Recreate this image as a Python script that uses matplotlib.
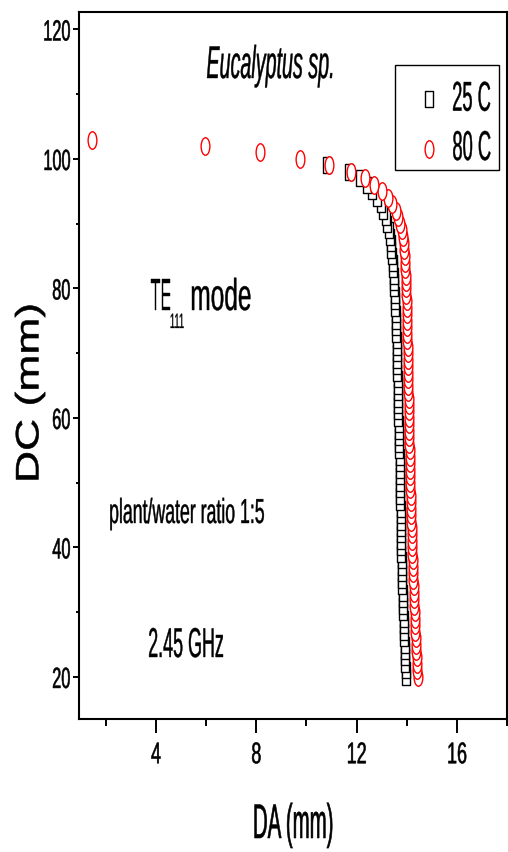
import matplotlib
matplotlib.use('Agg')
import matplotlib.pyplot as plt
from matplotlib.patheffects import AbstractPathEffect
from matplotlib.transforms import Affine2D
from matplotlib.path import Path
from matplotlib.patches import Rectangle
from matplotlib.lines import Line2D

plt.rcParams['font.family'] = ['Liberation Sans', 'DejaVu Sans']

# DC (mm) vs DA (mm), one point per mm of DC
dc_25 = [20, 21, 22, 23, 24, 25, 26, 27, 28, 29,
         30, 31, 32, 33, 34, 35, 36, 37, 38, 39,
         40, 41, 42, 43, 44, 45, 46, 47, 48, 49,
         50, 51, 52, 53, 54, 55, 56, 57, 58, 59,
         60, 61, 62, 63, 64, 65, 66, 67, 68, 69,
         70, 71, 72, 73, 74, 75, 76, 77, 78, 79,
         80, 81, 82, 83, 84, 85, 86, 87, 88, 89,
         90, 91, 92, 93, 94, 95, 96, 97, 98, 99]
da_25 = [13.98, 13.97, 13.95, 13.94, 13.93, 13.92, 13.91, 13.90, 13.89, 13.88,
         13.87, 13.86, 13.85, 13.84, 13.83, 13.82, 13.81, 13.80, 13.80, 13.79,
         13.79, 13.78, 13.78, 13.77, 13.77, 13.76, 13.76, 13.75, 13.75, 13.74,
         13.74, 13.73, 13.73, 13.72, 13.72, 13.71, 13.70, 13.69, 13.69, 13.68,
         13.67, 13.67, 13.66, 13.66, 13.65, 13.64, 13.64, 13.63, 13.62, 13.62,
         13.61, 13.60, 13.60, 13.59, 13.58, 13.57, 13.56, 13.55, 13.54, 13.52,
         13.51, 13.50, 13.48, 13.46, 13.44, 13.42, 13.39, 13.36, 13.33, 13.29,
         13.23, 13.16, 13.07, 12.96, 12.80, 12.63, 12.43, 12.13, 11.68, 10.84]

dc_80 = [20, 21, 22, 23, 24, 25, 26, 27, 28, 29,
         30, 31, 32, 33, 34, 35, 36, 37, 38, 39,
         40, 41, 42, 43, 44, 45, 46, 47, 48, 49,
         50, 51, 52, 53, 54, 55, 56, 57, 58, 59,
         60, 61, 62, 63, 64, 65, 66, 67, 68, 69,
         70, 71, 72, 73, 74, 75, 76, 77, 78, 79,
         80, 81, 82, 83, 84, 85, 86, 87, 88, 89,
         90, 91, 92, 93, 94, 95, 96, 97, 98, 99,
         100, 101, 102, 103]
da_80 = [14.44, 14.43, 14.41, 14.40, 14.39, 14.38, 14.36, 14.35, 14.34, 14.33,
         14.32, 14.31, 14.30, 14.29, 14.28, 14.27, 14.26, 14.25, 14.24, 14.23,
         14.22, 14.22, 14.21, 14.20, 14.19, 14.18, 14.18, 14.17, 14.16, 14.15,
         14.15, 14.14, 14.13, 14.13, 14.12, 14.12, 14.11, 14.11, 14.10, 14.10,
         14.09, 14.09, 14.08, 14.08, 14.07, 14.07, 14.06, 14.06, 14.05, 14.05,
         14.04, 14.04, 14.03, 14.03, 14.02, 14.02, 14.01, 14.00, 14.00, 13.99,
         13.98, 13.97, 13.96, 13.95, 13.94, 13.92, 13.90, 13.88, 13.84, 13.80,
         13.73, 13.66, 13.56, 13.42, 13.25, 13.02, 12.69, 12.33, 11.79, 10.92,
         9.76, 8.16, 5.96, 1.44]

labels = ['25 C', '80 C']
x_ticks = [4, 8, 12, 16]
x_minor = [2, 6, 10, 14, 18]
y_ticks = [20, 40, 60, 80, 100, 120]
y_minor = [30, 50, 70, 90, 110]


class SqueezeX(AbstractPathEffect):
    """Narrow the text horizontally, like the squashed scan, and thicken it a bit."""
    def __init__(self, sx, anchor='center', stroke=0.3):
        super().__init__()
        self.sx = sx
        self.anchor = anchor
        self.stroke = stroke

    def draw_path(self, renderer, gc, tpath, affine, rgbFace=None):
        bb = tpath.get_extents(affine)
        x0 = {'left': bb.x0, 'center': 0.5 * (bb.x0 + bb.x1), 'right': bb.x1}[self.anchor]
        squeeze = Affine2D().translate(-x0, 0).scale(self.sx, 1).translate(x0, 0)
        gc0 = renderer.new_gc()
        gc0.copy_properties(gc)
        if rgbFace is not None and self.stroke:
            gc0.set_foreground(rgbFace)
            gc0.set_linewidth(self.stroke)
        renderer.draw_path(gc0, tpath, affine + squeeze, rgbFace)
        gc0.restore()


# tall open markers
sq_marker = Affine2D().translate(-0.5, -0.5).scale(0.5, 1).transform_path(Path.unit_rectangle())
ci_marker = Affine2D().scale(0.5, 1).transform_path(Path.unit_circle())
sq_ms, ci_ms = 11.3, 12.6

W, H = 508, 852
L, R, T, B = 79, 507, 12, 719
fig = plt.figure(figsize=(W / 100, H / 100), dpi=100)
ax = fig.add_axes([L / W, 1 - B / H, (R - L) / W, (B - T) / H])


def axpos(px, py):
    return (px - L) / (R - L), (B - py) / (B - T)


ax.plot(da_25, dc_25, ls='none', marker=sq_marker, ms=sq_ms, mfc='white',
        mec='black', mew=1.0, zorder=3)
ax.plot(da_80, dc_80, ls='none', marker=ci_marker, ms=ci_ms, mfc='white',
        mec='#ff0000', mew=1.0, zorder=4)

ax.set_xlim(0.93, 18.0)
ax.set_ylim(13.5, 122.7)
ax.set_xticks(x_ticks)
ax.set_xticks(x_minor, minor=True)
ax.set_yticks(y_ticks)
ax.set_yticks(y_minor, minor=True)
ax.tick_params(axis='x', which='major', direction='out', length=10, width=1.4,
               labelsize=21.5, pad=6)
ax.tick_params(axis='x', which='minor', direction='out', length=5, width=1.4)
ax.tick_params(axis='y', which='major', direction='out', length=4.4, width=1.4,
               labelsize=21, pad=1.5)
ax.tick_params(axis='y', which='minor', direction='out', length=2.3, width=1.4)
for sp in ax.spines.values():
    sp.set_linewidth(1.5)

for t in ax.xaxis.get_major_ticks():
    t.label1.set_path_effects([SqueezeX(0.6, 'center', 0.4)])
for t in ax.yaxis.get_major_ticks():
    t.label1.set_path_effects([SqueezeX(0.56, 'right', 0.4)])

ax.set_xlabel('DA (mm)', fontsize=35, va='baseline',
              path_effects=[SqueezeX(0.42, 'center', 0.4)])
ax.xaxis.set_label_coords(*axpos(293, 838))
ax.set_ylabel('DC (mm)', fontsize=32, va='center', ha='center',
              path_effects=[SqueezeX(0.73, 'center', 0.4)])
ax.yaxis.set_label_coords(*axpos(30, 393))

# annotations
ax.text(*axpos(272, 78), 'Eucalyptus sp.', transform=ax.transAxes, fontsize=33,
        style='italic', ha='center', va='baseline',
        path_effects=[SqueezeX(0.43, 'center')])
ax.text(*axpos(150, 310), 'TE', transform=ax.transAxes, fontsize=32,
        ha='left', va='baseline', path_effects=[SqueezeX(0.36, 'left')])
ax.text(*axpos(169, 328), '111', transform=ax.transAxes, fontsize=15,
        ha='left', va='baseline', path_effects=[SqueezeX(0.45, 'left', 0.2)])
ax.text(*axpos(189, 310), 'mode', transform=ax.transAxes, fontsize=32,
        ha='left', va='baseline', path_effects=[SqueezeX(0.55, 'left')])
ax.text(*axpos(108, 523), 'plant/water ratio 1:5', transform=ax.transAxes,
        fontsize=25, ha='left', va='baseline', path_effects=[SqueezeX(0.51, 'left')])
ax.text(*axpos(147, 657), '2.45 GHz', transform=ax.transAxes, fontsize=30,
        ha='left', va='baseline', path_effects=[SqueezeX(0.43, 'left')])

# legend box
x0, y0 = axpos(395, 170)
x1, y1 = axpos(499, 65)
ax.add_patch(Rectangle((x0, y0), x1 - x0, y1 - y0, transform=ax.transAxes,
                       fill=False, ec='black', lw=1.0, zorder=5))
for (mk, ms, ec), ky, ty, lab in zip([(sq_marker, sq_ms, 'black'), (ci_marker, ci_ms, '#ff0000')],
                                    [98.5, 148.5], [110.7, 160], labels):
    kx, kyy = axpos(429, ky)
    ax.add_line(Line2D([kx], [kyy], transform=ax.transAxes, ls='none', marker=mk,
                       ms=ms, mfc='white', mec=ec, mew=1.0, zorder=6))
    ax.text(*axpos(492, ty), lab, transform=ax.transAxes, fontsize=30,
            ha='right', va='baseline', zorder=6, path_effects=[SqueezeX(0.44, 'right')])

fig.savefig('out.png', dpi=100)
